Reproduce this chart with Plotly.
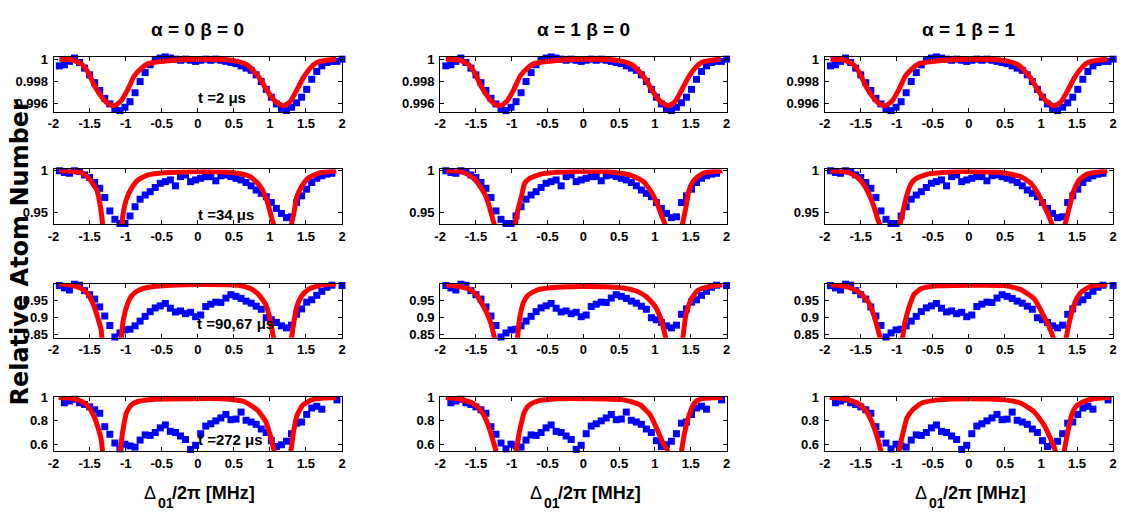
import plotly.graph_objects as go

W, H = 1130, 521

# ---------------- data ----------------
X_GRID = [-1.92, -1.85, -1.78, -1.71, -1.64, -1.57, -1.50, -1.43, -1.36, -1.29,
          -1.22, -1.15, -1.08, -1.01, -0.94, -0.87, -0.80, -0.73, -0.66, -0.59,
          -0.52, -0.45, -0.38, -0.31, -0.24, -0.17, -0.10, -0.03, 0.04, 0.11,
          0.18, 0.25, 0.32, 0.39, 0.46, 0.53, 0.60, 0.67, 0.74, 0.81,
          0.88, 0.95, 1.02, 1.09, 1.16, 1.23, 1.30, 1.37, 1.44, 1.51,
          1.58, 1.65, 1.72, 1.79, 1.86, 1.93, 2.00]

BLUE_T2 = [0.9994, 0.9995, 0.9998, 1.0001, 0.9997, 0.9992, 0.9986, 0.9979, 0.9972, 0.9965,
           0.9960, 0.9955, 0.9954, 0.9957, 0.9962, 0.9970, 0.9980, 0.9988, 0.9995, 0.9999,
           1.0001, 1.0002, 1.0001, 1.0000, 0.9999, 1.0000, 0.9999, 0.9998, 0.9999, 1.0000,
           0.9999, 1.0000, 0.9999, 0.9998, 0.9997, 0.9996, 0.9994, 0.9992, 0.9990, 0.9986,
           0.9980, 0.9973, 0.9966, 0.9960, 0.9956, 0.9954, 0.9957, 0.9961, 0.9966, 0.9973,
           0.9982, 0.9989, 0.9994, 0.9997, 0.9998, 0.9998, 1.0000]
BLUE_T34 = [1.000, 0.998, 0.997, 1.000, 0.999, 0.995, 0.992, 0.986, 0.979, 0.968,
            0.952, 0.942, 0.937, 0.937, 0.946, 0.957, 0.966, 0.971, 0.975, 0.980,
            0.985, 0.987, 0.989, 0.982, 0.993, 0.995, 0.987, 0.989, 0.991, 0.993,
            0.993, 0.988, 0.994, 0.995, 0.993, 0.991, 0.989, 0.986, 0.982, 0.977,
            0.973, 0.969, 0.962, 0.955, 0.949, 0.944, 0.945, 0.962, 0.970, 0.978,
            0.986, 0.991, 0.994, 0.996, 0.997, None, None]
BLUE_T90 = [0.995, 0.988, 0.982, 0.999, 0.996, 0.980, 0.968, 0.955, 0.932, 0.905,
            0.877, 0.843, 0.855, 0.864, 0.866, 0.876, 0.890, 0.904, 0.918, 0.929,
            0.935, 0.942, 0.928, 0.917, 0.920, 0.912, 0.916, 0.903, 0.908, 0.933,
            0.940, 0.946, 0.945, 0.958, 0.968, 0.963, 0.957, 0.949, 0.943, 0.934,
            0.925, 0.900, 0.894, 0.886, 0.876, 0.870, 0.878, 0.910, 0.926, 0.946,
            0.953, 0.966, 0.978, 0.990, 0.996, None, 0.995]
BLUE_T272 = [None, 0.955, 0.970, 0.985, 0.955, 0.940, 0.920, 0.895, 0.865, 0.750,
             0.685, 0.610, 0.560, 0.600, 0.585, 0.575, 0.635, 0.680, 0.675, 0.700,
             0.740, 0.765, 0.710, 0.700, 0.670, 0.640, 0.555, 0.590, 0.690, 0.755,
             0.775, 0.800, 0.825, 0.855, 0.810, 0.815, 0.875, 0.805, 0.790, 0.770,
             0.730, 0.700, 0.630, 0.580, 0.595, 0.625, 0.690, 0.780, 0.790, 0.855,
             0.910, 0.925, 0.900, 1.015, None, 0.980, None]

# theory curves (red); values below the axis floor are clipped
RED_R1_X = [-1.92, -1.75, -1.65, -1.60, -1.52, -1.43, -1.33, -1.24, -1.15, -1.06, -0.97, -0.88,
            -0.78, -0.69, -0.51, -0.05, 0.40, 0.55, 0.68, 0.78, 0.87, 0.96, 1.05, 1.14, 1.20,
            1.28, 1.37, 1.46, 1.56, 1.65, 1.78, 1.92]
RED_R1_Y = [1.0, 0.99995, 0.9997, 0.9995, 0.9988, 0.9976, 0.9966, 0.9960, 0.99585, 0.9963, 0.9973,
            0.9985, 0.9992, 0.9996, 0.9998, 1.0, 0.99995, 0.9998, 0.9995, 0.9989, 0.9982, 0.9972,
            0.9964, 0.99595, 0.99585, 0.9962, 0.9972, 0.9983, 0.9992, 0.9997, 0.9999, 1.0]

RED_R2C1_X = [-1.92, -1.70, -1.60, -1.50, -1.46, -1.40, -1.36, -1.32, -1.29, -1.07, -1.05, -1.04,
              -0.99, -0.92, -0.83, -0.69, -0.46, 0.09, 0.55, 0.73, 0.87, 0.96, 1.03, 1.05, 1.08,
              1.28, 1.30, 1.33, 1.37, 1.44, 1.53, 1.67, 1.92]
RED_R2C1_Y = [1.0, 0.999, 0.997, 0.990, 0.985, 0.977, 0.962, 0.936, 0.90, 0.90, 0.936, 0.946,
              0.966, 0.979, 0.989, 0.995, 0.9977, 0.999, 0.997, 0.993, 0.981, 0.964, 0.942, 0.936, 0.90,
              0.90, 0.936, 0.948, 0.968, 0.981, 0.991, 0.997, 1.0]
RED_R2C2_X = [-1.92, -1.74, -1.60, -1.51, -1.44, -1.37, -1.32, -1.28, -1.24, -1.20, -0.97, -0.95,
              -0.92, -0.86, -0.82, -0.75, -0.59, -0.13, 0.33, 0.65, 0.84, 0.93, 1.02, 1.09, 1.15,
              1.18, 1.36, 1.38, 1.43, 1.47, 1.53, 1.60, 1.71, 1.94]
RED_R2C2_Y = [1.0, 0.9995, 0.995, 0.989, 0.981, 0.971, 0.959, 0.947, 0.934, 0.90, 0.90, 0.934,
              0.951, 0.971, 0.985, 0.991, 0.996, 0.999, 0.999, 0.995, 0.987, 0.977, 0.963, 0.947, 0.934,
              0.90, 0.90, 0.934, 0.955, 0.975, 0.987, 0.993, 0.998, 1.0]
RED_R2C3_X = [-1.92, -1.67, -1.53, -1.44, -1.37, -1.31, -1.26, -1.23, -1.19, -0.99, -0.96, -0.91,
              -0.86, -0.80, -0.73, -0.57, -0.11, 0.45, 0.72, 0.86, 0.97, 1.07, 1.14, 1.16, 1.20,
              1.30, 1.33, 1.39, 1.45, 1.53, 1.64, 1.92]
RED_R2C3_Y = [1.0, 0.998, 0.991, 0.981, 0.969, 0.955, 0.941, 0.934, 0.90, 0.90, 0.934, 0.953,
              0.971, 0.985, 0.991, 0.996, 0.999, 0.998, 0.993, 0.985, 0.971, 0.953, 0.939, 0.934, 0.90,
              0.90, 0.934, 0.955, 0.975, 0.989, 0.996, 1.0]

RED_R3C1_X = [-1.93, -1.75, -1.61, -1.52, -1.45, -1.39, -1.34, -1.33, -1.30, -1.09, -1.06, -1.04,
              -0.99, -0.92, -0.83, -0.69, -0.37, 0.09, 0.55, 0.73, 0.84, 0.94, 1.00, 1.05, 1.08,
              1.27, 1.30, 1.33, 1.37, 1.44, 1.53, 1.69, 1.92]
RED_R3C1_Y = [0.9995, 0.996, 0.986, 0.969, 0.940, 0.902, 0.864, 0.8405, 0.80, 0.80, 0.8405, 0.883,
              0.931, 0.964, 0.980, 0.990, 0.996, 0.998, 0.996, 0.986, 0.969, 0.940, 0.898, 0.8405, 0.80,
              0.80, 0.8405, 0.883, 0.931, 0.964, 0.983, 0.996, 0.9995]
RED_R3C2_X = [-1.92, -1.74, -1.58, -1.49, -1.42, -1.35, -1.29, -1.24, -1.20, -0.95, -0.92, -0.89,
              -0.84, -0.77, -0.63, -0.36, 0.10, 0.56, 0.74, 0.88, 1.00, 1.09, 1.15, 1.19,
              1.36, 1.39, 1.43, 1.50, 1.60, 1.76, 1.94]
RED_R3C2_Y = [0.997, 0.992, 0.983, 0.967, 0.943, 0.915, 0.883, 0.8405, 0.80, 0.80, 0.8405, 0.897,
              0.943, 0.967, 0.983, 0.990, 0.992, 0.988, 0.979, 0.962, 0.934, 0.892, 0.8405, 0.80,
              0.80, 0.8405, 0.906, 0.953, 0.981, 0.992, 0.997]
RED_R3C3_X = [-1.92, -1.67, -1.51, -1.39, -1.31, -1.26, -1.23, -1.19, -0.95, -0.92, -0.89, -0.83,
              -0.76, -0.66, -0.43, 0.03, 0.49, 0.72, 0.91, 1.02, 1.11, 1.17, 1.21,
              1.32, 1.35, 1.40, 1.47, 1.55, 1.69, 1.92]
RED_R3C3_Y = [0.998, 0.990, 0.974, 0.945, 0.902, 0.864, 0.8405, 0.80, 0.80, 0.8405, 0.883, 0.931,
              0.969, 0.986, 0.994, 0.996, 0.995, 0.983, 0.955, 0.912, 0.874, 0.8405, 0.80,
              0.80, 0.8405, 0.893, 0.945, 0.974, 0.993, 0.998]

RED_R4C1_X = [-1.93, -1.75, -1.61, -1.52, -1.45, -1.39, -1.34, -1.32, -1.29, -1.11, -1.08, -1.04,
              -0.99, -0.92, -0.83, -0.60, -0.14, 0.32, 0.64, 0.82, 0.94, 1.00, 1.06, 1.09,
              1.26, 1.29, 1.33, 1.38, 1.46, 1.58, 1.74, 1.92]
RED_R4C1_Y = [1.0, 0.994, 0.966, 0.924, 0.854, 0.755, 0.642, 0.538, 0.45, 0.45, 0.538, 0.713,
              0.868, 0.938, 0.966, 0.986, 0.990, 0.990, 0.966, 0.896, 0.797, 0.685, 0.538, 0.45,
              0.45, 0.538, 0.713, 0.854, 0.938, 0.980, 0.995, 1.0]
RED_R4C2_X = [-1.92, -1.74, -1.55, -1.44, -1.35, -1.28, -1.22, -1.19, -0.97, -0.94, -0.89, -0.82,
              -0.75, -0.63, -0.36, 0.10, 0.56, 0.79, 0.93, 1.02, 1.11, 1.18, 1.21,
              1.34, 1.37, 1.41, 1.48, 1.55, 1.64, 1.94]
RED_R4C2_Y = [1.0, 0.989, 0.952, 0.896, 0.797, 0.670, 0.538, 0.45, 0.45, 0.538, 0.713, 0.882,
              0.938, 0.972, 0.990, 0.990, 0.980, 0.938, 0.854, 0.741, 0.614, 0.538, 0.45,
              0.45, 0.538, 0.685, 0.854, 0.952, 0.989, 1.0]
RED_R4C3_X = [-1.93, -1.72, -1.54, -1.42, -1.33, -1.26, -1.22, -1.19, -1.00, -0.97, -0.92, -0.86,
              -0.78, -0.66, -0.43, 0.03, 0.49, 0.72, 0.90, 1.04, 1.13, 1.20, 1.23,
              1.29, 1.32, 1.37, 1.42, 1.48, 1.57, 1.73, 1.96]
RED_R4C3_Y = [1.0, 0.989, 0.951, 0.880, 0.766, 0.637, 0.538, 0.45, 0.45, 0.538, 0.680, 0.823,
              0.894, 0.951, 0.980, 0.990, 0.980, 0.951, 0.880, 0.766, 0.651, 0.538, 0.45,
              0.45, 0.538, 0.700, 0.840, 0.920, 0.960, 0.990, 1.0]

TITLES = ["α = 0 β = 0", "α = 1 β = 0", "α = 1 β = 1"]
TIMES = ["t =2 μs", "t =34 μs", "t =90,67 μs", "t =272 μs"]
X_TITLE_PARTS = ["Δ", "01", "/2π [MHz]"]   # Δ_01 / 2π [MHz], subscript drawn smaller and lower
Y_TITLE = "Relative Atom Number"
X_TICKS = [-2, -1.5, -1, -0.5, 0, 0.5, 1, 1.5, 2]
X_TICKTEXT = ["-2", "-1.5", "-1", "-0.5", "0", "0.5", "1", "1.5", "2"]
Y_TICKS = [[0.996, 0.998, 1], [0.95, 1], [0.85, 0.9, 0.95], [0.6, 0.8, 1]]
Y_TICKTEXT = [["0.996", "0.998", "1"], ["0.95", "1"], ["0.85", "0.9", "0.95"], ["0.6", "0.8", "1"]]
Y_RANGES = [[0.9953, 1.0002], [0.936, 1.0015], [0.8405, 0.9995], [0.538, 1.008]]

BLUE_ROWS = [BLUE_T2, BLUE_T34, BLUE_T90, BLUE_T272]
RED = [[(RED_R1_X, RED_R1_Y), (RED_R1_X, RED_R1_Y), (RED_R1_X, RED_R1_Y)],
       [(RED_R2C1_X, RED_R2C1_Y), (RED_R2C2_X, RED_R2C2_Y), (RED_R2C3_X, RED_R2C3_Y)],
       [(RED_R3C1_X, RED_R3C1_Y), (RED_R3C2_X, RED_R3C2_Y), (RED_R3C3_X, RED_R3C3_Y)],
       [(RED_R4C1_X, RED_R4C1_Y), (RED_R4C2_X, RED_R4C2_Y), (RED_R4C3_X, RED_R4C3_Y)]]

# ---------------- layout geometry (pixels) ----------------
COL_PX = [(48, 339), (438, 727), (826, 1117)]
ROW_PX = [(51, 107), (166, 222), (283, 338), (398, 454)]
NARROW = "Liberation Sans Narrow, Arial Narrow, Liberation Sans, Arial, sans-serif"
TICKFONT = dict(family=NARROW, size=13, color="black", weight="bold")

fig = go.Figure()
layout = {}
for r in range(4):
    for c in range(3):
        k = r * 3 + c + 1
        xa = "x" if k == 1 else f"x{k}"
        ya = "y" if k == 1 else f"y{k}"
        bx, by = RED[r][c]
        fig.add_trace(go.Scatter(x=X_GRID, y=BLUE_ROWS[r], mode="markers",
                                 marker=dict(symbol="square", size=7, color="#0000ff",
                                             line=dict(width=0)),
                                 cliponaxis=False, xaxis=xa, yaxis=ya, showlegend=False))
        fig.add_trace(go.Scatter(x=bx, y=by, mode="lines",
                                 line=dict(color="#ff0000", width=5, shape="spline", smoothing=0.5),
                                 cliponaxis=True, xaxis=xa, yaxis=ya, showlegend=False))
        x0, x1 = COL_PX[c]
        y0, y1 = ROW_PX[r]
        common = dict(showline=True, mirror="ticks", linecolor="black", linewidth=1,
                      ticks="inside", ticklen=4, tickwidth=1, tickcolor="black",
                      showgrid=False, zeroline=False, tickfont=TICKFONT)
        layout["xaxis" if k == 1 else f"xaxis{k}"] = dict(
            domain=[x0 / W, x1 / W], range=[-2, 2], anchor=ya,
            tickvals=X_TICKS, ticktext=X_TICKTEXT, ticklabelstandoff=0, **common)
        layout["yaxis" if k == 1 else f"yaxis{k}"] = dict(
            domain=[1 - y1 / H, 1 - y0 / H], range=Y_RANGES[r], anchor=xa,
            tickvals=Y_TICKS[r], ticktext=Y_TICKTEXT[r], ticklabelstandoff=2, **common)

annotations = []
for c in range(3):
    cxp = (COL_PX[c][0] + COL_PX[c][1]) / 2
    annotations.append(dict(text=TITLES[c], x=cxp / W, y=1 - 23 / H, xref="paper", yref="paper",
                            showarrow=False, xanchor="center", yanchor="middle",
                            font=dict(family=NARROW, size=19, color="black", weight="bold")))
    p1 = cxp - 41
    annotations.append(dict(text=X_TITLE_PARTS[0], x=p1 / W, y=1 - 496 / H, xref="paper",
                            yref="paper", showarrow=False, xanchor="right", yanchor="middle",
                            xshift=1, font=dict(family=NARROW, size=18, color="black")))
    annotations.append(dict(text=X_TITLE_PARTS[1], x=p1 / W, y=1 - 507 / H, xref="paper",
                            yref="paper", showarrow=False, xanchor="left", yanchor="middle",
                            xshift=-1, font=dict(family=NARROW, size=14, color="black",
                                                 weight="bold")))
    annotations.append(dict(text=X_TITLE_PARTS[2], x=(p1 + 14) / W, y=1 - 496 / H, xref="paper",
                            yref="paper", showarrow=False, xanchor="left", yanchor="middle",
                            xshift=-1, font=dict(family=NARROW, size=18, color="black",
                                                 weight="bold")))

T_POS = [(218, 92), (222, 212), (232, 323), (227, 442)]
for r in range(4):
    annotations.append(dict(text=TIMES[r], x=T_POS[r][0] / W, y=1 - T_POS[r][1] / H,
                            xref="paper", yref="paper", showarrow=False,
                            xanchor="center", yanchor="middle",
                            font=dict(family=NARROW, size=15, color="black", weight="bold")))

annotations.append(dict(text=Y_TITLE, x=14 / W, y=1 - 250 / H,
                        xref="paper", yref="paper", showarrow=False, textangle=-90,
                        xanchor="center", yanchor="middle",
                        font=dict(family="DejaVu Sans, Liberation Sans, sans-serif",
                                  size=24, color="black", weight="bold")))

fig.update_layout(width=W, height=H, margin=dict(l=0, r=0, t=0, b=0),
                  paper_bgcolor="white", plot_bgcolor="white",
                  annotations=annotations, **layout)

fig.write_html("out.html")
